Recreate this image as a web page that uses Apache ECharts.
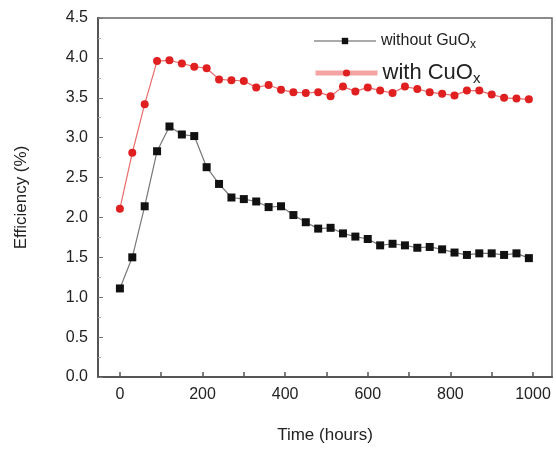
<!DOCTYPE html>
<html>
<head>
<meta charset="utf-8">
<script src="https://cdn.jsdelivr.net/npm/echarts@6/dist/echarts.min.js"></script>
<style>
  html, body { margin: 0; padding: 0; background: #fff; }
  #chart { width: 556px; height: 449px; }
</style>
</head>
<body>
<div id="chart"></div>
<script>
// time in hours, one point every 30 h
const hours = [0, 30, 60, 90, 120, 150, 180, 210, 240, 270, 300, 330, 360, 390, 420, 450, 480,
  510, 540, 570, 600, 630, 660, 690, 720, 750, 780, 810, 840, 870, 900, 930, 960, 990];
const withoutGuOx = [1.11, 1.50, 2.14, 2.83, 3.14, 3.04, 3.02, 2.63, 2.42, 2.25, 2.23, 2.20, 2.13,
  2.14, 2.03, 1.94, 1.86, 1.87, 1.80, 1.76, 1.73, 1.65, 1.67, 1.65, 1.62, 1.63, 1.60, 1.56, 1.53,
  1.55, 1.55, 1.53, 1.55, 1.49];
const withCuOx = [2.11, 2.81, 3.42, 3.96, 3.97, 3.93, 3.89, 3.87, 3.73, 3.72, 3.71, 3.63, 3.66,
  3.60, 3.57, 3.56, 3.57, 3.52, 3.64, 3.58, 3.63, 3.59, 3.56, 3.64, 3.61, 3.57, 3.55, 3.53, 3.59,
  3.59, 3.54, 3.50, 3.49, 3.48];
const xTicks = [0, 100, 200, 300, 400, 500, 600, 700, 800, 900, 1000];
const xLabels = [0, 200, 400, 600, 800, 1000];

const chart = echarts.init(document.getElementById('chart'));
const txt = '#222';
const subRich = {
  a: { fontSize: 16, color: txt, fontFamily: 'Liberation Sans' },
  s: { fontSize: 12, color: txt, fontFamily: 'Liberation Sans', padding: [8, 0, 0, 0] },
  b: { fontSize: 22, color: txt, fontFamily: 'Liberation Sans' },
  t: { fontSize: 15, color: txt, fontFamily: 'Liberation Sans', padding: [11, 0, 0, 0] }
};

const option = {
  animation: false,
  textStyle: { fontFamily: 'Liberation Sans' },
  grid: {
    left: 98, right: 4, top: 18, bottom: 69,
    show: true, borderColor: '#666', borderWidth: 1.5
  },
  legend: [
    {
      data: ['without GuOx'],
      left: 308, top: 28,
      itemWidth: 62, itemHeight: 8,
      formatter: () => '{a|without GuO}{s|x}',
      textStyle: { rich: subRich },
      lineStyle: { color: '#aaa', width: 2 }
    },
    {
      data: ['with CuOx'],
      left: 308, top: 57,
      itemWidth: 62, itemHeight: 9,
      formatter: () => '{b|with CuO}{t|x}',
      textStyle: { rich: subRich },
      lineStyle: { color: '#f5a3a3', width: 5 }
    }
  ],
  xAxis: {
    type: 'value',
    min: -53, max: 1046,
    name: 'Time (hours)',
    nameLocation: 'middle',
    nameGap: 50,
    nameTextStyle: { fontSize: 17, color: txt },
    axisLine: { lineStyle: { color: '#555', width: 2 } },
    axisTick: { inside: true, length: 5, customValues: xTicks, lineStyle: { color: '#555', width: 1.5 } },
    axisLabel: { customValues: xLabels, fontSize: 16, color: txt, margin: 10, formatter: v => String(v) },
    splitLine: { show: false }
  },
  yAxis: {
    type: 'value',
    min: 0, max: 4.5, interval: 0.5,
    name: 'Efficiency (%)',
    nameLocation: 'middle',
    nameGap: 68,
    nameTextStyle: { fontSize: 17, color: txt },
    axisLine: { show: true, onZero: false, lineStyle: { color: '#555', width: 2 } },
    axisTick: { show: true, inside: true, length: 5, lineStyle: { color: '#777' } },
    minorTick: { show: true, splitNumber: 2, length: 3, lineStyle: { color: '#aaa' } },
    axisLabel: { fontSize: 16, color: txt, margin: 10, formatter: v => v.toFixed(1) },
    splitLine: { show: false }
  },
  series: [
    {
      name: 'without GuOx',
      type: 'line',
      data: hours.map((h, i) => [h, withoutGuOx[i]]),
      symbol: 'rect',
      symbolSize: 8,
      itemStyle: { color: '#111' },
      lineStyle: { color: '#777', width: 1.2 }
    },
    {
      name: 'with CuOx',
      type: 'line',
      data: hours.map((h, i) => [h, withCuOx[i]]),
      symbol: 'circle',
      symbolSize: 8,
      itemStyle: { color: '#e02020' },
      lineStyle: { color: '#e86a6a', width: 1.2 }
    }
  ]
};

chart.setOption(option);
</script>
</body>
</html>
